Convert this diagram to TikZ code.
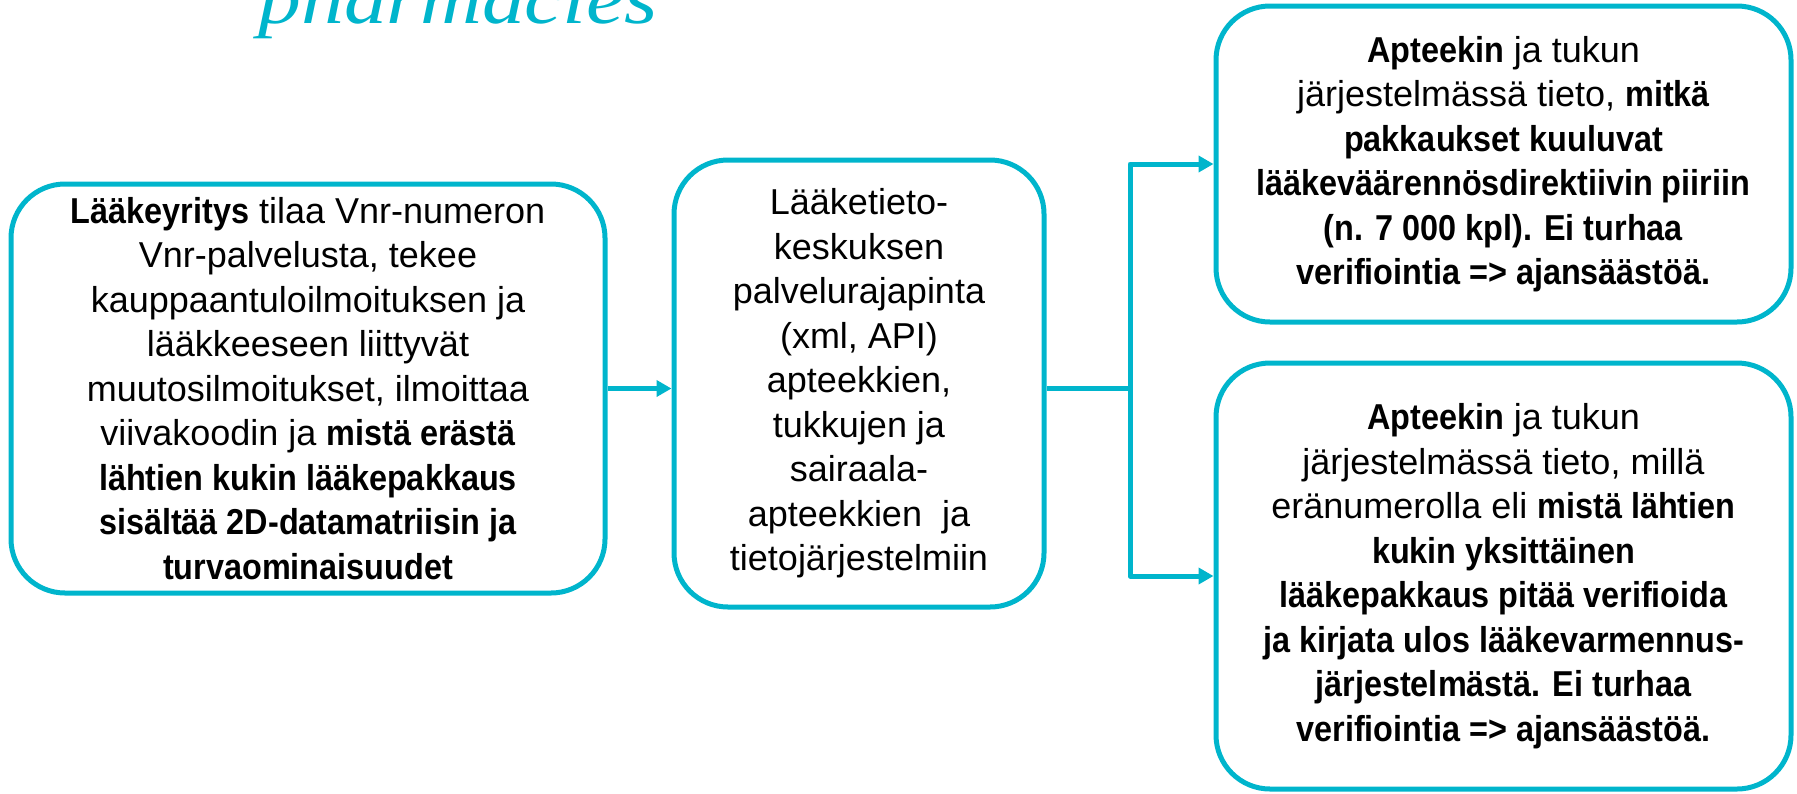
\documentclass[tikz,border=0pt]{standalone}
\usepackage{fontspec}
\setmainfont{Liberation Sans}[BoldFeatures={FakeStretch=0.9}]
\newfontfamily\otsikkofont{Liberation Serif}[ItalicFeatures={FakeStretch=1.19}]
\usetikzlibrary{positioning}
\usetikzlibrary{arrows.meta}
\definecolor{turkoosi}{RGB}{0,181,204}
\tikzset{
    laatikko/.style = {rectangle, rounded corners=27pt, line width=2.5pt, draw=turkoosi, align=center, inner sep=0pt, font=\fontsize{18}{22.25}\selectfont, text=black},
    edget/.style = {-, line width=2.5pt, line join=round, turkoosi},
    edgea/.style = {-{Triangle[length=7.5pt,width=8pt]}, line width=2.5pt, line join=round, turkoosi}, % to boxes
    otsikko/.style = {font=\otsikkofont\itshape\fontsize{36}{36}\selectfont, text=turkoosi, inner sep=0pt}
}

\begin{document}
\begin{tikzpicture}[x=0.5pt, y=-0.5pt]
  \useasboundingbox (0,0) rectangle (1797,793);
  \node[otsikko, anchor=base west] (otsikko) at (258,23) {pharmacies};

  \node[laatikko, minimum width=297pt, minimum height=204.5pt] (yritys) at (308,388.5)
    {\textbf{Lääkeyritys} tilaa Vnr-numeron\\ Vnr-palvelusta, tekee\\ kauppaantuloilmoituksen ja\\
     lääkkeeseen liittyvät\\ muutosilmoitukset, ilmoittaa\\ viivakoodin ja \textbf{mistä erästä}\\
     \textbf{lähtien kukin lääkepakkaus}\\ \textbf{sisältää 2D-datamatriisin ja}\\ \textbf{turvaominaisuudet}};
  \node[laatikko, minimum width=185pt, minimum height=223.5pt] (rajapinta) at (859,383.5)
    {Lääketieto-\\ keskuksen\\ palvelurajapinta\\ (xml, API)\\ apteekkien,\\ tukkujen ja\\
     sairaala-\\ apteekkien\ \ ja\\ tietojärjestelmiin};
  \node[laatikko, minimum width=287.5pt, minimum height=158pt] (tieto1) at (1503.5,164)
    {\textbf{Apteekin} ja tukun\\ järjestelmässä tieto, \textbf{mitkä}\\ \textbf{pakkaukset kuuluvat}\\
     \textbf{lääkeväärennösdirektiivin piiriin}\\ \textbf{(n. 7 000 kpl). Ei turhaa}\\
     \textbf{verifiointia => ajansäästöä.}};
  \node[laatikko, minimum width=287.5pt, minimum height=213pt] (tieto2) at (1503.5,576)
    {\textbf{Apteekin} ja tukun\\ järjestelmässä tieto, millä\\ eränumerolla eli \textbf{mistä lähtien}\\
     \textbf{kukin yksittäinen}\\ \textbf{lääkepakkaus pitää verifioida}\\
     \textbf{ja kirjata ulos lääkevarmennus-}\\ \textbf{järjestelmästä. Ei turhaa}\\
     \textbf{verifiointia => ajansäästöä.}};

  \coordinate (haara) at (1130,388.5);
  \draw[edgea] (yritys.east) -- (rajapinta.west |- yritys.east);
  \draw[edget] (rajapinta.east |- haara) -- (haara);
  \draw[edgea] (haara) |- (tieto1.west);
  \draw[edgea] (haara) |- (tieto2.west);
\end{tikzpicture}
\end{document}
